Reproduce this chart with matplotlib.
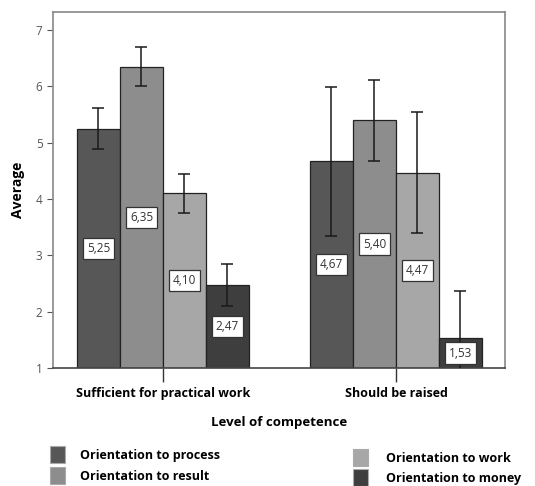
import numpy as np
import matplotlib.pyplot as plt
from matplotlib.patches import Rectangle

# data
groups = ["Sufficient for practical work", "Should be raised"]
series = ["Orientation to process", "Orientation to result",
          "Orientation to work", "Orientation to money"]
means = [
    [5.25, 4.67],
    [6.35, 5.40],
    [4.10, 4.47],
    [2.47, 1.53],
]
err_low = [
    [4.88, 3.35],
    [6.01, 4.68],
    [3.75, 3.40],
    [2.10, 0.69],
]
err_high = [
    [5.62, 5.98],
    [6.69, 6.12],
    [4.45, 5.54],
    [2.84, 2.37],
]
labels = [
    ["5,25", "4,67"],
    ["6,35", "5,40"],
    ["4,10", "4,47"],
    ["2,47", "1,53"],
]
colors = ["#575757", "#8d8d8d", "#a7a7a7", "#3e3e3e"]

plt.rcParams['font.family'] = ['Open Sans', 'DejaVu Sans']

W, H = 535, 486
fig = plt.figure(figsize=(W / 100, H / 100), dpi=100)
ax = fig.add_axes([53 / W, 1 - 368 / H, 452 / W, 356 / H])

ymin = 1
width = 0.1845
x = np.arange(len(groups))

for i, name in enumerate(series):
    pos = x + (i - 1.5) * width
    m = np.array(means[i])
    ax.bar(pos, m - ymin, width, bottom=ymin, color=colors[i],
           edgecolor="#222222", linewidth=0.9, zorder=2)
    lo = m - np.array(err_low[i])
    hi = np.array(err_high[i]) - m
    ax.errorbar(pos, m, yerr=[lo, hi], fmt="none", ecolor="#1a1a1a",
                elinewidth=1.1, capsize=4.3, capthick=1.1, zorder=3)
    for px, v, lab in zip(pos, m, labels[i]):
        ax.text(px, (v + ymin) / 2, lab, ha="center", va="center",
                fontsize=8.5, color="#333333", zorder=4,
                bbox=dict(boxstyle="square,pad=0.35", fc="white",
                          ec="#333333", lw=0.9))

ax.set_xlim(-0.472, 1.468)
ax.set_ylim(1, 7.32)
ax.set_yticks([1, 2, 3, 4, 5, 6, 7])
ax.set_xticks(x)
ax.set_xticklabels(groups, fontsize=9, fontweight="bold")
ax.tick_params(axis="y", labelsize=8.5, labelcolor="#555555",
               color="#555555", length=4, direction="out")
ax.tick_params(axis="x", length=10, width=1, color="#333333", pad=4)
for sp in ax.spines.values():
    sp.set_color("#888888")
    sp.set_linewidth(1.2)
ax.spines["bottom"].set_color("#444444")

ax.set_ylabel("Average", fontsize=10, fontweight="bold", labelpad=8)
ax.set_xlabel("Level of competence", fontsize=9.5, fontweight="bold",
              labelpad=11)

# legend, two columns drawn by hand
leg_items = [
    (50, 446, 80, 455, 0),
    (50, 467, 80, 476, 1),
    (353, 449, 386, 458, 2),
    (353, 469, 386, 478, 3),
]
for sx, sy, tx, ty, k in leg_items:
    fig.add_artist(Rectangle((sx / W, 1 - (sy + 17) / H), 15 / W, 17 / H,
                             transform=fig.transFigure,
                             facecolor=colors[k], edgecolor="#aaaaaa", lw=0.8))
    fig.text(tx / W, 1 - ty / H, series[k], ha="left", va="center",
             fontsize=9, fontweight="bold")

fig.savefig("out.png", dpi=100)
